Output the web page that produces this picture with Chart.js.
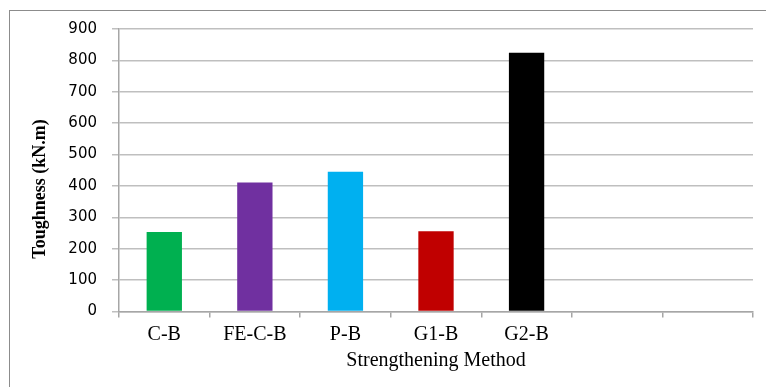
<!DOCTYPE html>
<html>
<head>
<meta charset="utf-8">
<script src="https://cdn.jsdelivr.net/npm/chart.js@4"></script>
<style>
    html, body { margin: 0; padding: 0; background: #fff; overflow: hidden; }
    #wrap { position: relative; width: 766px; height: 387px; }
    #frame { position: absolute; left: 9px; top: 10px; width: 800px; height: 400px; border: 1px solid #8c8c8c; }
    canvas { position: absolute; left: 0; top: 0; }
</style>
</head>
<body>
<div id="wrap">
    <div id="frame"></div>
    <canvas id="chart" width="766" height="387"></canvas>
</div>
<script>
// Wykres słupkowy — udarność belek wg metody wzmocnienia
const categories = ["C-B", "FE-C-B", "P-B", "G1-B", "G2-B", "", ""];
const toughness = [253, 411, 445, 256, 824, null, null];
const barColors = ["#00B050", "#7030A0", "#00B0F0", "#C00000", "#000000", "#000000", "#000000"];
const yTicks = [0, 100, 200, 300, 400, 500, 600, 700, 800, 900];
const yTitle = "Toughness (kN.m)";

const gridColor = "#bfbfbf";
const axisColor = "#a6a6a6";

// tytuł osi Y jest w oryginale przesunięty w dół względem środka osi
const yTitlePlugin = {
    id: "yTitle",
    afterDraw(chart) {
        const ctx = chart.ctx;
        ctx.save();
        ctx.translate(40, 189);
        ctx.rotate(-Math.PI / 2);
        ctx.font = "bold 18px 'Liberation Serif'";
        ctx.fillStyle = "#000";
        ctx.textAlign = "center";
        ctx.textBaseline = "middle";
        ctx.fillText(yTitle, 0, 0);
        ctx.restore();
    },
};

new Chart(document.getElementById("chart"), {
    type: "bar",
    data: {
        labels: categories,
        datasets: [{
            data: toughness,
            backgroundColor: barColors,
            borderWidth: 0,
            barPercentage: 0.39,
            categoryPercentage: 1,
        }],
    },
    plugins: [yTitlePlugin],
    options: {
        responsive: false,
        animation: false,
        layout: { padding: { top: 29, right: 13, left: 0, bottom: 0 } },
        plugins: {
            legend: { display: false },
            tooltip: { enabled: false },
        },
        scales: {
            x: {
                afterFit: (scale) => { scale.height = 75.5; },
                grid: {
                    offset: true,
                    drawOnChartArea: false,
                    drawTicks: true,
                    tickLength: 6,
                    color: axisColor,
                    lineWidth: 1.5,
                },
                border: { color: axisColor, width: 1.5 },
                ticks: {
                    color: "#000",
                    padding: 5,
                    font: { family: "Liberation Serif", size: 20 },
                },
                title: {
                    display: true,
                    text: "Strengthening Method",
                    color: "#000",
                    padding: { top: 0, bottom: 14 },
                    font: { family: "Liberation Serif", size: 20 },
                },
            },
            y: {
                min: 0,
                max: 900,
                afterFit: (scale) => { scale.width = 119; },
                afterBuildTicks: (scale) => { scale.ticks = yTicks.map((v) => ({ value: v })); },
                grid: {
                    color: gridColor,
                    lineWidth: 1.5,
                    tickLength: 7,
                },
                border: { color: axisColor, width: 1.5 },
                ticks: {
                    color: "#000",
                    padding: 15,
                    font: { family: "DejaVu Sans", size: 15 },
                },
            },
        },
    },
});
</script>
</body>
</html>
